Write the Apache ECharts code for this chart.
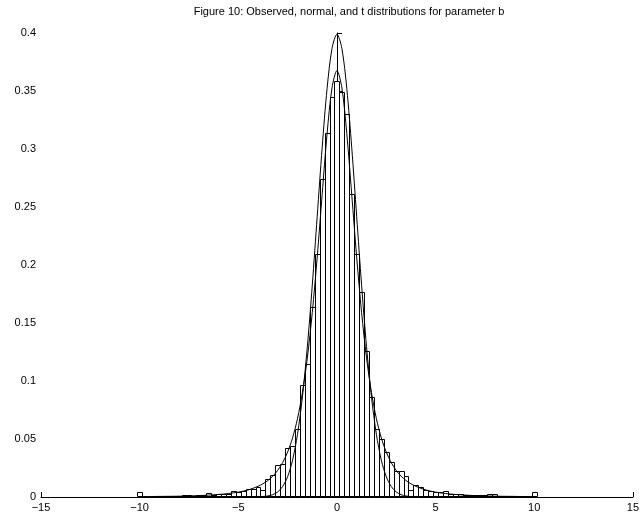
<!DOCTYPE html>
<html><head><meta charset="utf-8">
<script src="https://cdn.jsdelivr.net/npm/echarts@6/dist/echarts.min.js"></script>
<style>html,body{margin:0;padding:0;background:#fff}#c{width:642px;height:523px}</style>
</head><body><div id="c"></div>
<script>
const titleText = 'Figure 10: Observed, normal, and t distributions for parameter b';
const binCenters = [-10,-9.75,-9.5,-9.25,-9,-8.75,-8.5,-8.25,-8,-7.75,-7.5,-7.25,-7,-6.75,-6.5,-6.25,-6,-5.75,-5.5,-5.25,-5,-4.75,-4.5,-4.25,-4,-3.75,-3.5,-3.25,-3,-2.75,-2.5,-2.25,-2,-1.75,-1.5,-1.25,-1,-0.75,-0.5,-0.25,0,0.25,0.5,0.75,1,1.25,1.5,1.75,2,2.25,2.5,2.75,3,3.25,3.5,3.75,4,4.25,4.5,4.75,5,5.25,5.5,5.75,6,6.25,6.5,6.75,7,7.25,7.5,7.75,8,8.25,8.5,8.75,9,9.25,9.5,9.75,10];
const observed = [0.0032,0,0,0.0002,0.0002,0.0002,0.0002,0.0004,0.0004,0.001,0.0006,0.0004,0.0008,0.001,0.0022,0.001,0.0016,0.002,0.002,0.004,0.0036,0.0046,0.0064,0.0062,0.0074,0.0055,0.0145,0.018,0.0265,0.028,0.0417,0.043,0.058,0.0957,0.114,0.163,0.209,0.273,0.313,0.344,0.358,0.348,0.329,0.26,0.209,0.176,0.125,0.085,0.058,0.049,0.038,0.029,0.0218,0.0218,0.017,0.005,0.0095,0.0075,0.0055,0.004,0.0035,0.0035,0.004,0.002,0.0018,0.0015,0.001,0.0012,0.0008,0.0005,0.0008,0.0015,0.002,0.0004,0.0003,0.0002,0.0002,0.0001,0.0001,0,0.0032];
const curveX = [-10,-9,-8,-7,-6,-5.5,-5,-4.5,-4,-3.75,-3.5,-3.25,-3,-2.75,-2.5,-2.25,-2,-1.75,-1.5,-1.25,-1,-0.75,-0.5,-0.25,0,0.25,0.5,0.75,1,1.25,1.5,1.75,2,2.25,2.5,2.75,3,3.25,3.5,3.75,4,4.5,5,5.5,6,7,8,9,10];
const normalY = [0,0,0,0,0,0,0,0,0.0001,0.0004,0.0009,0.002,0.0044,0.0091,0.0175,0.0317,0.054,0.0863,0.1295,0.1826,0.242,0.3011,0.3521,0.3867,0.3989,0.3867,0.3521,0.3011,0.242,0.1826,0.1295,0.0863,0.054,0.0317,0.0175,0.0091,0.0044,0.002,0.0009,0.0004,0.0001,0,0,0,0,0,0,0,0];
const tY = [0.0003,0.0005,0.0007,0.0012,0.0022,0.003,0.0042,0.0061,0.0092,0.0114,0.0142,0.018,0.023,0.0297,0.0387,0.0509,0.0675,0.09,0.12,0.1589,0.2068,0.2607,0.3132,0.3527,0.3676,0.3527,0.3132,0.2607,0.2068,0.1589,0.12,0.09,0.0675,0.0509,0.0387,0.0297,0.023,0.018,0.0142,0.0114,0.0092,0.0061,0.0042,0.003,0.0022,0.0012,0.0007,0.0005,0.0003];
const xTicks = [-15,-10,-5,0,5,10,15];
const yTicks = [0,0.05,0.1,0.15,0.2,0.25,0.3,0.35,0.4];

const binWidth = binCenters[1] - binCenters[0];
const histData = binCenters.map((c, i) => [c, observed[i]]);
const zip = (xs, ys) => xs.map((x, i) => [x, ys[i]]);
const FONT = 'Liberation Sans, Arial, Helvetica, sans-serif';
const snap = v => Math.round(v) + 0.5;

const chart = echarts.init(document.getElementById('c'), null, {renderer: 'canvas'});
chart.setOption({
  animation: false,
  backgroundColor: '#fff',
  title: {text: titleText, left: 344, top: 1, textAlign: 'center',
    textStyle: {fontFamily: FONT, fontSize: 11, fontWeight: 'normal', color: '#000'}},
  grid: {left: 41, right: 7, top: 33, bottom: 26, containLabel: false},
  xAxis: {type: 'value', min: xTicks[0], max: xTicks[xTicks.length - 1], interval: 5,
    axisLine: {onZero: false, lineStyle: {color: '#000', width: 1}},
    axisTick: {inside: true, length: 5, lineStyle: {color: '#000'}},
    axisLabel: {color: '#000', fontFamily: FONT, fontSize: 11, margin: 5,
      formatter: v => (v < 0 ? '\u2212' + Math.abs(v) : String(v))},
    splitLine: {show: false}},
  yAxis: {type: 'value', min: yTicks[0], max: yTicks[yTicks.length - 1], interval: 0.05,
    axisLine: {show: true, lineStyle: {color: '#000', width: 1}},
    axisTick: {show: true, inside: true, length: 5, lineStyle: {color: '#000'}},
    axisLabel: {color: '#000', fontFamily: FONT, fontSize: 11, margin: 5,
      formatter: v => String(Math.round(v * 100) / 100)},
    splitLine: {show: false}},
  series: [
    {type: 'custom', data: histData, z: 2,
      renderItem: function (params, api) {
        const x = api.value(0), y = api.value(1);
        const p0 = api.coord([x - binWidth / 2, 0]);
        const p1 = api.coord([x + binWidth / 2, y]);
        const x0 = snap(p0[0]), x1 = snap(p1[0]);
        const y0 = Math.round(p0[1]) - 0.5, y1 = snap(p1[1]) - 1;
        return {type: 'rect',
          shape: {x: x0, y: Math.min(y1, y0), width: x1 - x0, height: Math.abs(y0 - y1)},
          style: {fill: '#fff', stroke: '#000', lineWidth: 1}};
      }},
    {type: 'line', data: zip(curveX, normalY), showSymbol: false, smooth: 0.3, z: 3,
      lineStyle: {color: '#000', width: 1}},
    {type: 'line', data: zip(curveX, tY), showSymbol: false, smooth: 0.3, z: 3,
      lineStyle: {color: '#000', width: 1}}
  ]
});
</script></body></html>
